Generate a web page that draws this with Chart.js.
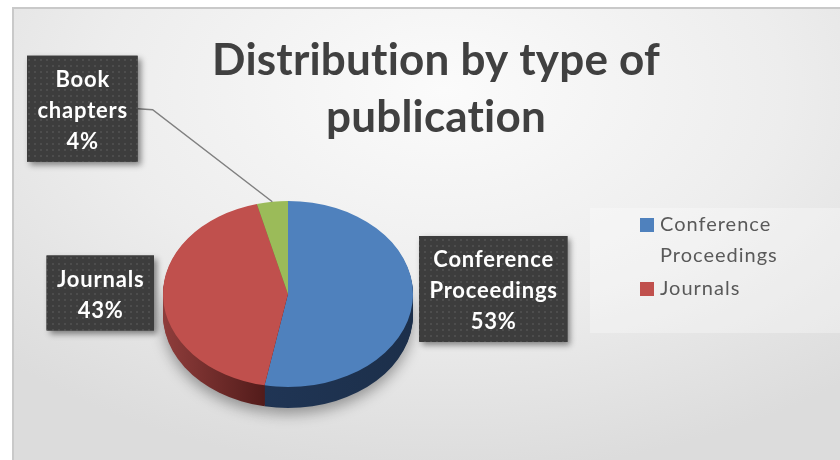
<!DOCTYPE html>
<html>
<head>
<meta charset="utf-8">
<script src="https://cdn.jsdelivr.net/npm/chart.js@4.4.1/dist/chart.umd.min.js"></script>
<style>
  html, body { margin: 0; padding: 0; background: #fff; }
  #wrap {
    position: absolute; left: 12px; top: 7px; width: 828px; height: 453px;
    box-sizing: border-box;
    border-top: 2px solid #c9c9c9; border-left: 2px solid #c9c9c9;
    background: radial-gradient(ellipse 75% 85% at 52% 18%, #fbfbfb 0%, #ededed 55%, #dcdcdc 100%);
  }
</style>
</head>
<body>
<div id="wrap"><canvas id="pubChart"></canvas></div>
<script>
// data
const categories = ['Conference Proceedings', 'Journals', 'Book chapters'];
const shares = [53, 43, 4];
const titleLines = ['Distribution by type of', 'publication'];
const legendLabels = ['Conference Proceedings', 'Journals'];

const topColors = ['#4f81bd', '#c0504d', '#9bbb59'];
const sideColors = [
    [[0, '#22395c'], [1, '#1c2f4a']],
    [[0, '#8f3d3b'], [0.45, '#4c1817'], [1, '#4c1817']],
    [[0, '#6f8a3c'], [1, '#5a7030']]
];

const tilt = 0.744;   // vertical squash of the pie
const pieDepth = 21;  // thickness of the 3d side

const pubChart = document.querySelector('#pubChart');

function squash(ctx, x, y) {
    ctx.translate(x, y);
    ctx.scale(1, tilt);
    ctx.translate(-x, -y);
}

// dotted fill for the data label boxes
const dotTile = document.createElement('canvas');
dotTile.width = 6;
dotTile.height = 6;
const dctx = dotTile.getContext('2d');
dctx.fillStyle = '#3d3d3d';
dctx.fillRect(0, 0, 6, 6);
dctx.fillStyle = '#4d4d4d';
dctx.fillRect(2, 2, 2, 2);

const pie3d = {
    id: 'pie3d',
    beforeDatasetsDraw(chart) {
        const ctx = chart.ctx;
        const arcs = chart.getDatasetMeta(0).data;
        const { x, y, outerRadius } = arcs[0];
        for (let d = pieDepth; d >= 1; d--) {
            ctx.save();
            if (d === pieDepth) {
                ctx.shadowColor = 'rgba(0,0,0,0.35)';
                ctx.shadowBlur = 14;
                ctx.shadowOffsetY = 6;
            }
            ctx.translate(0, d);
            squash(ctx, x, y);
            arcs.forEach(function (arc, i) {
                const g = ctx.createLinearGradient(x - outerRadius, 0, x + outerRadius, 0);
                sideColors[i].forEach(function (s) { g.addColorStop(s[0], s[1]); });
                ctx.fillStyle = g;
                ctx.beginPath();
                ctx.moveTo(x, y);
                ctx.arc(x, y, outerRadius, arc.startAngle, arc.endAngle);
                ctx.closePath();
                ctx.fill();
            });
            ctx.restore();
        }
        ctx.save();
        squash(ctx, x, y);
    },
    afterDatasetsDraw(chart) {
        chart.ctx.restore();
    }
};

const labelFont = 'bold 22px Lato';

function labelBox(ctx, lines) {
    ctx.font = labelFont;
    ctx.letterSpacing = '0.8px';
    const w = Math.max.apply(null, lines.map(function (l) { return ctx.measureText(l).width; })) + 20;
    const h = lines.length * 31 + 13;
    return { w: w, h: h };
}

function drawBox(ctx, lines, left, top, size) {
    ctx.save();
    ctx.shadowColor = 'rgba(0,0,0,0.45)';
    ctx.shadowBlur = 6;
    ctx.shadowOffsetX = 3;
    ctx.shadowOffsetY = 3;
    ctx.fillStyle = '#3d3d3d';
    ctx.fillRect(left, top, size.w, size.h);
    ctx.restore();
    ctx.fillStyle = ctx.createPattern(dotTile, 'repeat');
    ctx.fillRect(left, top, size.w, size.h);
    ctx.fillStyle = '#ffffff';
    ctx.font = labelFont;
    ctx.letterSpacing = '0.8px';
    ctx.textAlign = 'center';
    ctx.textBaseline = 'middle';
    const y0 = top + size.h / 2 - (lines.length - 1) * 31 / 2 + 2;
    lines.forEach(function (l, i) {
        ctx.fillText(l, left + size.w / 2 + 0.4, y0 + i * 31);
    });
}

const overlay = {
    id: 'overlay',
    afterDraw(chart) {
        const ctx = chart.ctx;
        const arcs = chart.getDatasetMeta(0).data;
        const total = shares.reduce(function (a, b) { return a + b; }, 0);

        // title
        ctx.save();
        ctx.fillStyle = '#404040';
        ctx.font = 'bold 44px Lato';
        ctx.letterSpacing = '0.2px';
        ctx.textAlign = 'center';
        ctx.textBaseline = 'middle';
        titleLines.forEach(function (t, i) {
            ctx.fillText(t, chart.width / 2 + 9, 52 + i * 57);
        });
        ctx.restore();

        // data labels
        arcs.forEach(function (arc, i) {
            const { x, y, outerRadius, startAngle, endAngle } = arc;
            const lines = categories[i].split(' ').concat([Math.round(shares[i] / total * 100) + '%']);
            ctx.save();
            const size = labelBox(ctx, lines);
            const mid = (startAngle + endAngle) / 2;
            if (shares[i] / total < 0.1) {
                const ax = x + outerRadius * Math.cos(mid);
                const ay = y + outerRadius * tilt * Math.sin(mid);
                const left = ax - 190 - size.w / 2;
                const top = ay - 93 - size.h / 2;
                ctx.strokeStyle = '#808080';
                ctx.lineWidth = 1.5;
                ctx.beginPath();
                ctx.moveTo(ax, ay);
                ctx.lineTo(left + size.w + 15, top + size.h / 2 + 1);
                ctx.lineTo(left + size.w, top + size.h / 2);
                ctx.stroke();
                drawBox(ctx, lines, left, top, size);
            } else if (Math.cos(mid) > 0) {
                drawBox(ctx, lines, x + outerRadius + 6, y - 5 - size.h / 2, size);
            } else {
                drawBox(ctx, lines, x - outerRadius - 9 - size.w, y - 1 - size.h / 2, size);
            }
            ctx.restore();
        });

        // legend
        ctx.save();
        ctx.fillStyle = 'rgba(255,255,255,0.3)';
        ctx.fillRect(576, 199, chart.width - 576, 125);
        ctx.font = '20px Lato';
        ctx.letterSpacing = '1px';
        ctx.textBaseline = 'middle';
        ctx.textAlign = 'left';
        let ly = 216;
        legendLabels.forEach(function (label) {
            const idx = categories.indexOf(label);
            ctx.fillStyle = topColors[idx];
            ctx.fillRect(626, ly - 7, 14, 14);
            ctx.fillStyle = '#595959';
            label.split(' ').forEach(function (word) {
                ctx.fillText(word, 646, ly);
                ly += 31;
            });
            ly += 2;
        });
        ctx.restore();
    }
};

new Chart(pubChart, {
    type: 'pie',
    data: {
        labels: categories,
        datasets: [{
            data: shares,
            backgroundColor: topColors,
            borderWidth: 0,
            hoverOffset: 0,
            clip: false
        }]
    },
    options: {
        responsive: true,
        maintainAspectRatio: false,
        animation: false,
        events: [],
        layout: { padding: { top: 160, bottom: 41, left: 0, right: 278 } },
        plugins: {
            legend: { display: false },
            title: { display: false },
            tooltip: { enabled: false }
        }
    },
    plugins: [pie3d, overlay]
});
</script>
</body>
</html>
